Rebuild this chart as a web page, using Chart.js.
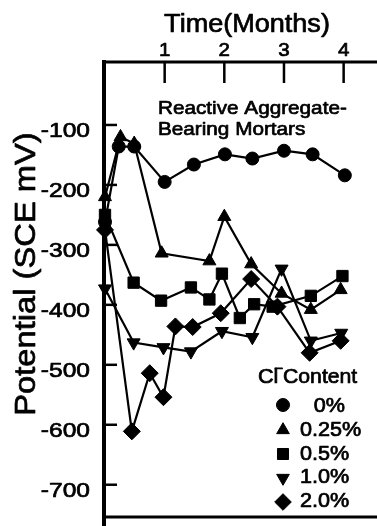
<!DOCTYPE html>
<html><head><meta charset="utf-8">
<script src="https://cdn.jsdelivr.net/npm/chart.js@4/dist/chart.umd.min.js"></script>
<style>html,body{margin:0;padding:0;background:#fff}</style>
</head><body>
<canvas id="c" width="377" height="526"></canvas>
<script>
// ---- data ----
const monthTicks = [1, 2, 3, 4];
const potentialTicks = [-100, -200, -300, -400, -500, -600, -700];
const seriesLabels = ['0%', '0.25%', '0.5%', '1.0%', '2.0%'];

const t0pct   = [0, 0.23, 0.49, 1.0, 1.49, 2.01, 2.47, 3.0, 3.48, 4.02];
const v0pct   = [-262, -136, -136, -195, -166, -149, -156, -143, -149, -184];

const t025pct = [0, 0.26, 0.49, 0.95, 1.75, 2.0, 2.45, 2.96, 3.45, 3.95];
const v025pct = [-220, -120, -131, -314, -327, -253, -332, -381, -408, -375];

const t05pct  = [0, 0.48, 0.94, 1.44, 1.75, 1.96, 2.26, 2.5, 2.81, 3.45, 3.98];
const v05pct  = [-250, -363, -393, -371, -391, -348, -422, -399, -403, -385, -352];

const t10pct  = [0, 0.48, 0.98, 1.44, 1.96, 2.47, 2.96, 3.45, 3.96];
const v10pct  = [-373, -463, -471, -478, -444, -454, -340, -460, -447];

const t20pct  = [0, 0.45, 0.75, 0.98, 1.18, 1.47, 1.94, 2.45, 2.89, 3.43, 3.95];
const v20pct  = [-275, -611, -514, -554, -436, -437, -414, -357, -403, -480, -460];

const FONT = '"Liberation Sans", Arial, Helvetica, sans-serif';

function mk(label, ts, vs, style, r, rot) {
  return {
    label: label,
    data: ts.map((t, i) => ({ x: t, y: vs[i] })),
    borderColor: '#000', backgroundColor: '#000', borderWidth: 2.2,
    pointStyle: style, pointRadius: r, pointRotation: rot || 0,
    pointBorderWidth: 1, pointBackgroundColor: '#000', pointBorderColor: '#000',
    pointHoverRadius: r, tension: 0, clip: false, fill: false
  };
}

const styles = [
  { s: 'circle', r: 6.5, rot: 0 },
  { s: 'triangle', r: 7.5, rot: 0 },
  { s: 'rect', r: 8, rot: 0 },
  { s: 'triangle', r: 7.5, rot: 180 },
  { s: 'rectRot', r: 8.5, rot: 0 }
];
const legendStyles = [
  { s: 'circle', r: 6.5, rot: 0 },
  { s: 'triangle', r: 7.3, rot: 0 },
  { s: 'rect', r: 7.8, rot: 0 },
  { s: 'triangle', r: 7.3, rot: 180 },
  { s: 'rectRot', r: 8.3, rot: 0 }
];

function txt(ctx, s, x, y, size, sx, align) {
  ctx.save();
  ctx.font = size + 'px ' + FONT;
  ctx.textAlign = align || 'left';
  ctx.textBaseline = 'alphabetic';
  ctx.fillStyle = '#000';
  ctx.strokeStyle = '#000';
  ctx.lineWidth = 0.7;
  ctx.lineJoin = 'round';
  ctx.translate(x, y);
  ctx.scale(sx, 1);
  ctx.fillText(s, 0, 0);
  ctx.strokeText(s, 0, 0);
  ctx.restore();
}

const framePlugin = {
  id: 'frame',
  beforeDatasetsDraw(chart) {
    const ctx = chart.ctx, a = chart.chartArea;
    const xs = chart.scales.x, ys = chart.scales.y;
    ctx.save();
    ctx.strokeStyle = '#000';
    ctx.lineCap = 'butt';
    ctx.lineWidth = 4;
    ctx.beginPath(); ctx.moveTo(a.left - 1, a.top - 2); ctx.lineTo(a.left - 1, 526); ctx.stroke();
    ctx.lineWidth = 3;
    ctx.beginPath(); ctx.moveTo(a.left - 3, a.top); ctx.lineTo(377, a.top); ctx.stroke();
    ctx.beginPath(); ctx.moveTo(a.left - 3, a.bottom + 0.5); ctx.lineTo(377, a.bottom + 0.5); ctx.stroke();
    ctx.lineWidth = 2.5;
    potentialTicks.forEach(v => {
      const y = ys.getPixelForValue(v);
      ctx.beginPath(); ctx.moveTo(a.left, y); ctx.lineTo(a.left + 12, y); ctx.stroke();
    });
    monthTicks.forEach(m => {
      const x = xs.getPixelForValue(m);
      ctx.beginPath(); ctx.moveTo(x, a.top); ctx.lineTo(x, a.top + 21); ctx.stroke();
    });
    ctx.restore();
  },
  afterDraw(chart) {
    const ctx = chart.ctx;
    const xs = chart.scales.x, ys = chart.scales.y;
    txt(ctx, 'Time(Months)', 247, 32, 26, 1.04, 'center');
    monthTicks.forEach(m => txt(ctx, String(m), xs.getPixelForValue(m), 56, 19, 1.08, 'center'));
    potentialTicks.forEach(v => txt(ctx, String(v), 90, ys.getPixelForValue(v) + 12, 21, 1.17, 'right'));
    ctx.save();
    ctx.translate(35, 274);
    ctx.rotate(-Math.PI / 2);
    ctx.scale(1.09, 1);
    ctx.font = '30px ' + FONT;
    ctx.textAlign = 'center'; ctx.textBaseline = 'alphabetic';
    ctx.fillStyle = '#000'; ctx.strokeStyle = '#000'; ctx.lineWidth = 0.7; ctx.lineJoin = 'round';
    ctx.fillText('Potential (SCE mV)', 0, 0);
    ctx.strokeText('Potential (SCE mV)', 0, 0);
    ctx.restore();
    txt(ctx, 'Reactive Aggregate-', 158, 114, 19, 1.09, 'left');
    txt(ctx, 'Bearing Mortars', 158, 135, 19, 1.09, 'left');
    txt(ctx, 'Cl', 258, 383, 20, 1.08, 'left');
    txt(ctx, '\u2212', 274, 373, 14, 1.1, 'left');
    txt(ctx, 'Content', 283, 383, 20, 1.06, 'left');
    const ly = [405, 430, 454, 478, 502];
    const tb = [412, 436, 460, 483, 507];
    seriesLabels.forEach((lab, i) => {
      const st = legendStyles[i];
      ctx.save();
      ctx.fillStyle = '#000'; ctx.strokeStyle = '#000';
      Chart.helpers.drawPoint(ctx, { pointStyle: st.s, radius: st.r, rotation: st.rot, borderWidth: 1 }, 283, ly[i]);
      ctx.restore();
      if (i === 0) txt(ctx, lab, 345, tb[i], 20, 1.08, 'right');
      else txt(ctx, lab, 300, tb[i], 20, 1.08, 'left');
    });
  }
};

const datasets = [
  mk(seriesLabels[0], t0pct, v0pct, styles[0].s, styles[0].r, styles[0].rot),
  mk(seriesLabels[1], t025pct, v025pct, styles[1].s, styles[1].r, styles[1].rot),
  mk(seriesLabels[2], t05pct, v05pct, styles[2].s, styles[2].r, styles[2].rot),
  mk(seriesLabels[3], t10pct, v10pct, styles[3].s, styles[3].r, styles[3].rot),
  mk(seriesLabels[4], t20pct, v20pct, styles[4].s, styles[4].r, styles[4].rot)
];

new Chart(document.getElementById('c'), {
  type: 'line',
  data: { datasets: datasets },
  options: {
    responsive: false, animation: false, devicePixelRatio: 1,
    layout: { padding: { left: 0, right: 2, top: 0, bottom: 3 } },
    plugins: { legend: { display: false }, tooltip: { enabled: false } },
    events: [],
    scales: {
      x: {
        type: 'linear', position: 'top', min: 0, max: 4.4,
        grid: { display: false }, border: { display: false }, ticks: { display: false },
        afterBuildTicks(s) { s.ticks = monthTicks.map(v => ({ value: v })); },
        afterFit(s) { s.height = 62; }
      },
      y: {
        type: 'linear', min: -753, max: 5,
        grid: { display: false }, border: { display: false }, ticks: { display: false },
        afterBuildTicks(s) { s.ticks = potentialTicks.map(v => ({ value: v })); },
        afterFit(s) { s.width = 105; }
      }
    }
  },
  plugins: [framePlugin]
});
</script>
</body></html>
